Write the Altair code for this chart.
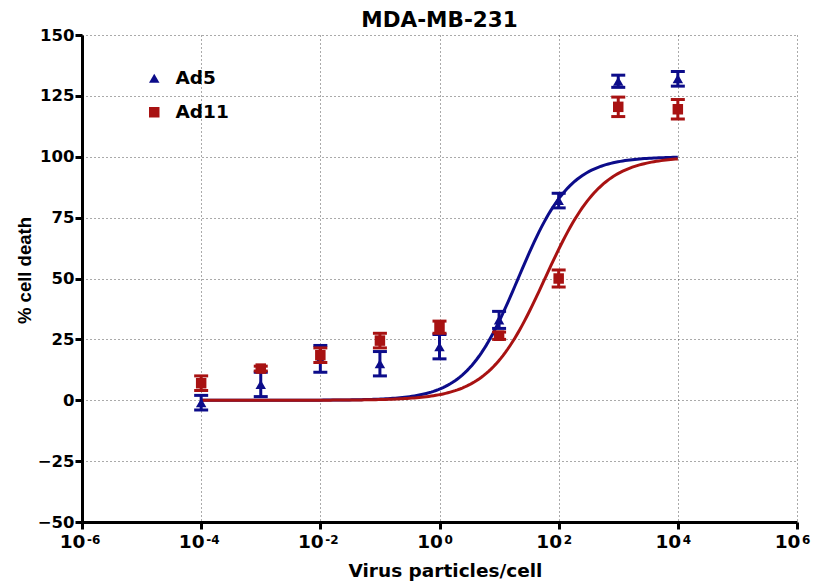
import altair as alt
import numpy as np
import pandas as pd

# Dose (virus particles per cell)
doses = [1e-4, 1e-3, 1e-2, 1e-1, 1e0, 1e1, 1e2, 1e3, 1e4]

# Mean % cell death and error (SEM) per dose
ad5_mean = [-1, 6.5, 17, 15, 22, 33, 82, 131, 132]
ad5_err = [3, 5, 5.5, 5, 5, 3.5, 3, 2.5, 3]
ad11_mean = [7, 13, 18.5, 24.5, 30, 26.5, 50, 120.5, 119.5]
ad11_err = [3, 1, 3, 3, 2.5, 1.5, 3.5, 4, 4]

# Fitted dose-response (Hill) parameters: bottom, top, logEC50, hill slope
ad5_fit = (0, 100, 1.32, 1.0)
ad11_fit = (0, 100, 1.77, 0.92)

series_names = ["Ad5", "Ad11"]
series_colors = ["#0c0c8a", "#a81212"]
series_shapes = ["triangle-up", "square"]

x_ticks = [1e-6, 1e-4, 1e-2, 1e0, 1e2, 1e4, 1e6]
x_exponents = ["-6", "-4", "-2", "0", "2", "4", "6"]
y_ticks = [-50, -25, 0, 25, 50, 75, 100, 125, 150]

FONT = "DejaVu Sans"
FONT_Y = "Liberation Sans"

points = pd.DataFrame({
    "dose": doses * 2,
    "mean": ad5_mean + ad11_mean,
    "err": ad5_err + ad11_err,
    "series": ["Ad5"] * len(doses) + ["Ad11"] * len(doses),
})
points["lo"] = points["mean"] - points["err"]
points["hi"] = points["mean"] + points["err"]

log_x = np.linspace(-4, 4, 200)
curve_rows = []
for name, (bottom, top, logec50, hill) in zip(series_names, [ad5_fit, ad11_fit]):
    y = bottom + (top - bottom) / (1 + 10 ** ((logec50 - log_x) * hill))
    curve_rows.append(pd.DataFrame({"dose": 10 ** log_x, "pct": y, "series": name}))
curves = pd.concat(curve_rows, ignore_index=True)

exponent_df = pd.DataFrame({"dose": x_ticks, "exp": x_exponents, "base": [-50] * len(x_ticks)})

x_scale = alt.Scale(type="log", domain=[1e-6, 1e6], nice=False)
y_scale = alt.Scale(domain=[-50, 150], nice=False, zero=False)
color_scale = alt.Scale(domain=series_names, range=series_colors)
shape_scale = alt.Scale(domain=series_names, range=series_shapes)

# Tick labels show the base "10"; the exponents are drawn as a raised text layer
x_axis = alt.Axis(
    title="Virus particles/cell",
    values=x_ticks,
    labelExpr="'10'",
    labelOffset=-10,
    labelFlush=False,
    labelOverlap=False,
    titleFont=FONT,
    titleFontSize=18.5,
    titleX=363,
    titlePadding=11,
)
y_axis = alt.Axis(title="% cell death", values=y_ticks, titleFont=FONT_Y,
                  titleFontSize=18.5, titleY=235, titlePadding=3)

legend = alt.Legend(title=None, orient="none", legendX=63, legendY=34,
                    symbolSize=110, labelFontSize=18.5, labelFont=FONT,
                    labelFontWeight="bold", labelOffset=12, labelColor="black",
                    rowPadding=15, padding=0, symbolStrokeWidth=0)

layers = []
for name, col in zip(series_names, series_colors):
    c = curves[curves.series == name]
    layers.append(
        alt.Chart(c).mark_line(strokeWidth=3, clip=True, color=col).encode(
            x=alt.X("dose:Q", scale=x_scale, axis=x_axis),
            y=alt.Y("pct:Q", scale=y_scale, axis=y_axis),
        )
    )
for name, col in zip(series_names, series_colors):
    p = points[points.series == name]
    base = alt.Chart(p)
    layers.append(
        base.mark_rule(strokeWidth=3, color=col).encode(
            x=alt.X("dose:Q", scale=x_scale),
            y=alt.Y("lo:Q", scale=y_scale),
            y2="hi:Q",
        )
    )
    for end in ["lo", "hi"]:
        layers.append(
            base.mark_tick(orient="horizontal", size=14, thickness=3, opacity=1, color=col).encode(
                x=alt.X("dose:Q", scale=x_scale),
                y=alt.Y(f"{end}:Q", scale=y_scale),
            )
        )
    layers.append(
        base.mark_point(filled=True, opacity=1, size=110).encode(
            x=alt.X("dose:Q", scale=x_scale),
            y=alt.Y("mean:Q", scale=y_scale),
            color=alt.Color("series:N", scale=color_scale, legend=legend),
            shape=alt.Shape("series:N", scale=shape_scale, legend=legend),
        )
    )

# Raised exponents for the x tick labels
layers.append(
    alt.Chart(exponent_df).mark_text(
        font=FONT, fontSize=12, fontWeight="bold", color="black",
        align="left", baseline="alphabetic", dx=5, dy=22, clip=False,
    ).encode(
        x=alt.X("dose:Q", scale=x_scale),
        y=alt.Y("base:Q", scale=y_scale),
        text="exp:N",
    )
)

chart = alt.layer(*layers).properties(
    width=715,
    height=487,
    title=alt.TitleParams("MDA-MB-231", font=FONT, fontSize=21.5, fontWeight="bold",
                          anchor="middle", offset=8, dy=12, color="black"),
    autosize=alt.AutoSizeParams(type="none"),
    padding={"left": 82, "top": 35, "right": 24, "bottom": 62},
).configure_view(stroke=None).configure_axis(
    labelFont=FONT, labelFontSize=16.5, labelFontWeight="bold", labelColor="black",
    titleFontWeight="bold", titleColor="black",
    domainColor="black", domainWidth=3, tickColor="black", tickWidth=3, tickSize=7,
    grid=True, gridColor="#555555", gridDash=[1, 3], gridWidth=1,
    labelPadding=1,
).configure_axisX(labelFontSize=18.5, labelPadding=3)

chart.save("out.html", embed_options={"renderer": "svg", "actions": False})
